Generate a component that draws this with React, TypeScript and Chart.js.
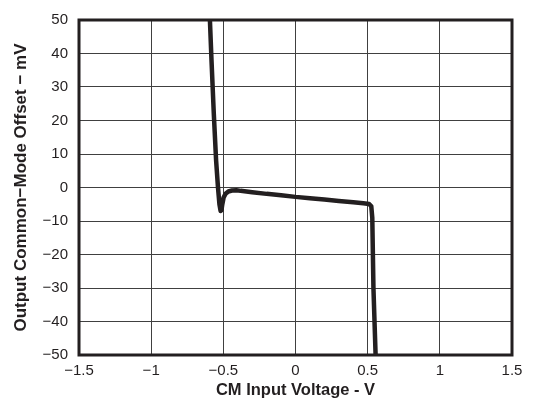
import React, { useEffect, useRef } from "react";
import { Chart, registerables } from "chart.js";

Chart.register(...registerables);

// CM input voltage (V)
const xValues: number[] = [
  -0.593, -0.582, -0.566, -0.55, -0.537, -0.527, -0.519, -0.513, -0.507, -0.498,
  -0.485, -0.465, -0.44, -0.41, -0.38, -0.3, -0.2, -0.1, 0.0, 0.1,
  0.2, 0.3, 0.4, 0.47, 0.51, 0.525, 0.532, 0.54, 0.555,
];
// Output common-mode offset (mV)
const yValues: number[] = [
  50, 38, 22, 8, 0, -5, -7, -6.8, -5, -3,
  -1.9, -1.2, -0.9, -0.8, -1.0, -1.4, -1.9, -2.3, -2.8, -3.2,
  -3.6, -4.0, -4.4, -4.7, -4.9, -5.6, -9, -30, -50,
];

const xTicks: number[] = [-1.5, -1, -0.5, 0, 0.5, 1, 1.5];
const yTicks: number[] = [-50, -40, -30, -20, -10, 0, 10, 20, 30, 40, 50];

const xTitle = "CM Input Voltage - V";
const yTitle = "Output Common\u2212Mode Offset \u2212 mV";

const INK = "#231f20";

const fmt = (v: number) => String(v).replace("-", "\u2212");

const frame = {
  id: "frame",
  beforeDatasetsDraw(chart: any) {
    const { ctx, chartArea } = chart;
    ctx.save();
    ctx.strokeStyle = INK;
    ctx.lineWidth = 3;
    ctx.strokeRect(
      chartArea.left,
      chartArea.top,
      chartArea.right - chartArea.left,
      chartArea.bottom - chartArea.top
    );
    ctx.restore();
  },
};

export default function App() {
  const ref = useRef<HTMLCanvasElement | null>(null);

  useEffect(() => {
    document.body.style.margin = "0";
    if (!ref.current) return;
    const points = xValues.map((x, i) => ({ x, y: yValues[i] }));
    const chart = new Chart(ref.current, {
      type: "scatter",
      data: {
        datasets: [
          {
            data: points,
            showLine: true,
            borderColor: INK,
            borderWidth: 4.5,
            pointRadius: 0,
            tension: 0,
            borderJoinStyle: "round",
            borderCapStyle: "butt",
          } as any,
        ],
      },
      plugins: [frame],
      options: {
        responsive: false,
        animation: false,
        layout: { padding: { top: 11, right: 21, left: 0, bottom: 0 } },
        plugins: { legend: { display: false }, tooltip: { enabled: false } },
        scales: {
          x: {
            type: "linear",
            min: xTicks[0],
            max: xTicks[xTicks.length - 1],
            afterBuildTicks: (s: any) => {
              s.ticks = xTicks.map((v) => ({ value: v }));
            },
            afterFit: (s: any) => {
              s.height = 53;
            },
            grid: { color: "#404040", lineWidth: 1, drawTicks: false },
            border: { display: false },
            ticks: {
              padding: 7,
              color: INK,
              font: { family: "'Liberation Sans', Arial, sans-serif", size: 15 },
              callback: (v: any) => fmt(Number(v)),
              maxRotation: 0,
            },
            title: {
              display: true,
              text: xTitle,
              color: INK,
              padding: { top: 0, bottom: 8 },
              font: { family: "'Liberation Sans', Arial, sans-serif", size: 16.5, weight: "bold" },
            },
          },
          y: {
            type: "linear",
            min: yTicks[0],
            max: yTicks[yTicks.length - 1],
            afterBuildTicks: (s: any) => {
              s.ticks = yTicks.map((v) => ({ value: v }));
            },
            afterFit: (s: any) => {
              s.width = 79;
            },
            grid: { color: "#404040", lineWidth: 1, drawTicks: false },
            border: { display: false },
            ticks: {
              padding: 11,
              color: INK,
              font: { family: "'Liberation Sans', Arial, sans-serif", size: 15 },
              callback: (v: any) => fmt(Number(v)),
            },
            title: {
              display: true,
              text: yTitle,
              color: INK,
              padding: { top: 11, bottom: 0 },
              font: { family: "'Liberation Sans', Arial, sans-serif", size: 17, weight: "bold" },
            },
          },
        },
      },
    });
    return () => chart.destroy();
  }, []);

  return (
    <div style={{ position: "absolute", left: 0, top: 0, width: 533, height: 408, background: "#fff" }}>
      <canvas ref={ref} width={533} height={408} style={{ display: "block" }} />
    </div>
  );
}
